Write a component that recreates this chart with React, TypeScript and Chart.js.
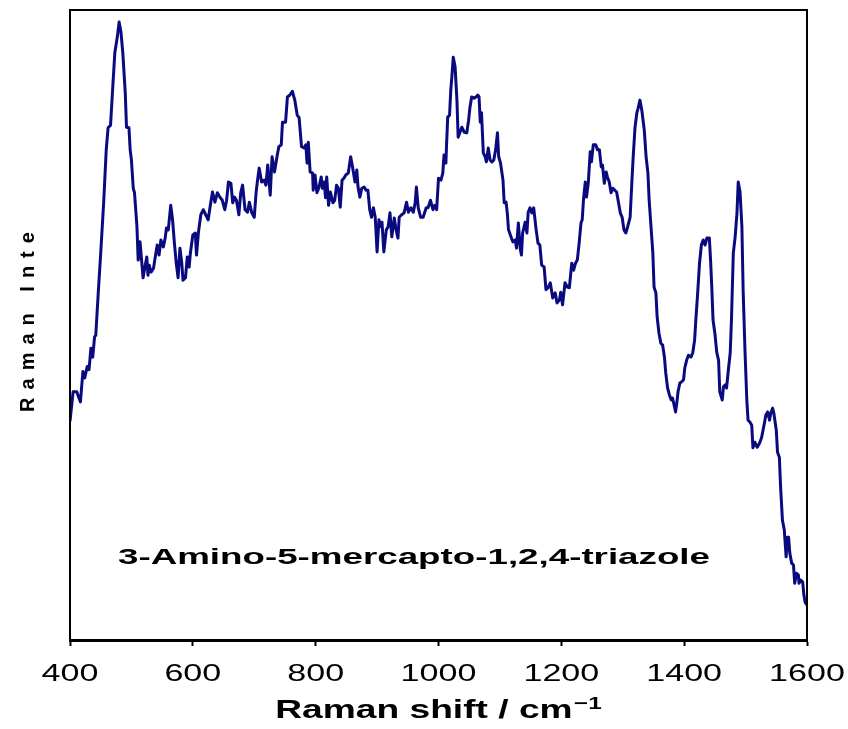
import React, { useEffect, useRef } from "react";
import { Chart, registerables } from "chart.js";

Chart.register(...registerables);

// Raman spectrum (arbitrary intensity units 0..100)
const wavenumbers = [
  400, 405, 411, 417, 421, 424, 428, 431, 434, 437, 440, 442, 446, 450, 453, 455, 459, 462, 466, 470,
  473, 477, 480, 483, 486, 490, 492, 496, 498, 500, 503, 505, 509, 511, 514, 517, 519, 522, 525, 527,
  529, 532, 536, 538, 542, 545, 548, 552, 555, 557, 560, 564, 567, 570, 573, 576, 579, 582, 584, 588,
  591, 594, 596, 600, 604, 606, 609, 613, 617, 621, 625, 628, 632, 636, 640, 644, 648, 652, 655, 658,
  662, 665, 668, 671, 675, 678, 681, 685, 689, 692, 696, 700, 703, 705, 708, 712, 716, 719, 722, 726,
  729, 733, 737, 740, 744, 746, 751, 754, 758, 762, 766, 770, 773, 777, 781, 784, 786, 788, 791, 795,
  796, 799, 802, 805, 809, 811, 814, 816, 818, 821, 824, 828, 831, 834, 837, 840, 843, 846, 849, 853,
  857, 860, 864, 867, 869, 872, 875, 879, 882, 885, 888, 891, 894, 897, 900, 903, 906, 908, 911, 915,
  918, 921, 924, 928, 931, 934, 936, 940, 944, 948, 951, 955, 959, 962, 964, 967, 971, 975, 980, 983,
  987, 991, 994, 997, 1000, 1004, 1007, 1009, 1012, 1013, 1015, 1018, 1020, 1022, 1024, 1027, 1030, 1032, 1035, 1038,
  1042, 1046, 1049, 1051, 1054, 1058, 1061, 1064, 1066, 1068, 1070, 1073, 1076, 1078, 1081, 1084, 1087, 1090, 1093, 1096,
  1098, 1101, 1105, 1107, 1110, 1112, 1114, 1118, 1121, 1125, 1127, 1130, 1133, 1135, 1137, 1141, 1144, 1146, 1149, 1152,
  1155, 1159, 1162, 1165, 1168, 1172, 1175, 1179, 1182, 1186, 1190, 1193, 1197, 1199, 1202, 1206, 1210, 1213, 1217, 1220,
  1223, 1226, 1229, 1232, 1234, 1236, 1239, 1241, 1244, 1247, 1249, 1252, 1256, 1259, 1262, 1265, 1267, 1270, 1273, 1275,
  1278, 1281, 1284, 1287, 1290, 1293, 1296, 1299, 1302, 1305, 1308, 1312, 1315, 1317, 1320, 1323, 1325, 1328, 1331, 1335,
  1338, 1341, 1343, 1346, 1349, 1351, 1354, 1356, 1359, 1362, 1365, 1368, 1370, 1373, 1376, 1379, 1381, 1383, 1386, 1388,
  1390, 1393, 1396, 1399, 1401, 1404, 1407, 1411, 1414, 1417, 1419, 1422, 1425, 1428, 1431, 1434, 1437, 1441, 1443, 1445,
  1447, 1450, 1453, 1456, 1458, 1462, 1464, 1467, 1469, 1472, 1475, 1477, 1480, 1483, 1486, 1488, 1491, 1494, 1496, 1499,
  1502, 1504, 1507, 1510, 1512, 1515, 1519, 1523, 1526, 1530, 1533, 1536, 1539, 1541, 1544, 1546, 1550, 1552, 1555, 1557,
  1560, 1563, 1566, 1568, 1570, 1572, 1575, 1578, 1580, 1583, 1586, 1587, 1590, 1593, 1595, 1597, 1600,
];

const intensities = [
  34.7, 39.4, 39.4, 37.8, 42.6, 41.6, 43.4, 42.9, 46.3, 44.9, 48.1, 48.4, 55.1, 61.4, 66.4, 69.8, 77.8, 81.3, 81.7, 88.4,
  93.2, 95.7, 98.1, 96.5, 93.2, 86.8, 81.4, 81.3, 77.8, 76.2, 71.7, 71.0, 65.6, 60.3, 63.2, 59.8, 57.5, 59.2, 60.8, 57.9,
  59.5, 58.4, 59.0, 60.3, 62.7, 61.1, 63.5, 62.4, 63.8, 65.4, 65.1, 69.0, 66.7, 63.0, 59.8, 57.5, 62.2, 59.8, 57.1, 57.5,
  60.8, 59.2, 61.4, 64.3, 64.6, 61.1, 64.6, 67.5, 68.3, 67.5, 66.7, 68.7, 71.1, 69.5, 71.0, 70.3, 69.8, 68.3, 69.8, 72.7,
  72.5, 69.4, 70.3, 69.8, 67.5, 71.0, 72.2, 68.3, 67.9, 69.5, 67.8, 67.1, 71.0, 72.7, 74.9, 72.7, 73.0, 72.2, 75.4, 70.6,
  76.7, 74.3, 76.7, 78.3, 78.6, 82.2, 82.2, 86.2, 86.5, 87.1, 85.7, 83.3, 82.9, 78.3, 78.1, 78.6, 75.7, 79.0, 74.3, 74.1,
  71.4, 73.8, 71.0, 71.7, 73.5, 71.7, 72.7, 70.2, 73.5, 69.0, 71.1, 69.4, 69.8, 72.2, 71.7, 68.7, 73.0, 73.3, 73.8, 74.1,
  76.7, 75.1, 72.7, 74.6, 71.9, 70.3, 71.7, 71.9, 71.4, 71.4, 68.3, 67.1, 68.6, 67.1, 61.6, 66.7, 65.6, 66.3, 61.6, 65.1,
  65.6, 67.8, 64.0, 67.0, 65.1, 63.8, 67.1, 67.5, 67.8, 69.5, 67.9, 68.6, 67.9, 69.4, 71.9, 68.6, 67.1, 67.1, 68.6, 68.6,
  69.8, 68.3, 69.0, 68.3, 73.3, 73.0, 74.1, 77.0, 75.7, 78.3, 83.0, 83.3, 87.3, 89.7, 92.5, 91.0, 85.7, 79.8, 80.6, 81.4,
  80.6, 80.5, 82.5, 84.4, 86.2, 86.0, 86.2, 86.5, 86.2, 82.2, 83.7, 77.3, 76.7, 75.9, 78.1, 76.2, 75.9, 76.2, 77.8, 80.5,
  76.7, 75.7, 73.0, 69.4, 69.5, 67.8, 65.1, 64.0, 63.2, 63.5, 62.2, 66.2, 62.2, 61.1, 64.6, 66.3, 64.6, 67.9, 68.6, 67.8,
  68.6, 65.1, 63.0, 62.7, 59.5, 59.2, 55.6, 56.0, 56.7, 54.3, 55.1, 53.5, 54.0, 55.2, 53.2, 56.7, 56.0, 55.9, 59.8, 58.7,
  59.8, 60.3, 63.0, 66.2, 66.7, 69.8, 72.7, 70.3, 72.7, 77.5, 75.9, 78.6, 78.6, 77.8, 77.8, 75.1, 75.4, 72.5, 74.3, 73.5,
  72.7, 71.0, 71.7, 71.4, 71.1, 69.5, 67.8, 67.1, 65.1, 64.6, 65.6, 67.1, 73.0, 76.7, 81.4, 83.7, 84.4, 85.7, 84.1, 81.0,
  76.7, 74.1, 69.8, 65.6, 61.4, 56.0, 55.1, 51.3, 48.7, 47.1, 46.8, 44.8, 42.4, 40.0, 38.9, 38.1, 38.4, 37.6, 36.2, 37.6,
  39.4, 40.8, 41.0, 41.3, 43.2, 44.4, 45.2, 44.9, 45.6, 47.6, 50.8, 55.1, 59.8, 62.7, 63.5, 62.7, 63.8, 63.8, 60.3, 56.0,
  50.8, 48.7, 45.7, 44.4, 39.4, 38.1, 40.2, 40.5, 40.0, 42.9, 45.6, 50.8, 61.4, 64.0, 67.8, 72.7, 71.1, 65.6, 55.6, 46.0,
  38.1, 34.9, 34.6, 34.1, 30.5, 31.4, 30.6, 31.3, 32.1, 34.1, 35.7, 36.2, 34.9, 36.0, 36.8, 36.0, 33.3, 29.8, 29.0, 24.3,
  19.0, 17.5, 13.2, 16.3, 16.3, 13.8, 12.2, 11.9, 9.0, 10.6, 10.3, 9.0, 9.5, 9.2, 7.1, 6.0, 5.5,
];

const xMin = 400;
const xMax = 1600;
const xStep = 200;
const xTitle = "Raman shift / cm";
const xTitleSup = "\u22121";
const yTitle = "Raman Inte";
const compoundLabel = "3-Amino-5-mercapto-1,2,4-triazole";

const FONT = "'Liberation Sans', Arial, Helvetica, sans-serif";

const decorPlugin = {
  id: "decor",
  afterDraw(chart: any) {
    const { ctx, chartArea } = chart;
    const xs = chart.scales.x;
    ctx.save();
    // plot frame
    ctx.strokeStyle = "#000";
    ctx.lineWidth = 2;
    ctx.beginPath();
    ctx.moveTo(chartArea.left, chartArea.bottom);
    ctx.lineTo(chartArea.left, chartArea.top);
    ctx.lineTo(chartArea.right, chartArea.top);
    ctx.lineTo(chartArea.right, chartArea.bottom);
    ctx.stroke();

    // tick labels (horizontally stretched, as in the reference)
    ctx.fillStyle = "#000";
    ctx.font = `24px ${FONT}`;
    ctx.textAlign = "center";
    ctx.textBaseline = "alphabetic";
    for (const t of xs.ticks) {
      const px = xs.getPixelForValue(t.value);
      ctx.save();
      ctx.translate(px, chartArea.bottom + 41);
      ctx.scale(1.42, 1);
      ctx.fillText(String(t.value), 0, 0);
      ctx.restore();
    }

    // x-axis title with superscript
    ctx.font = `bold 26px ${FONT}`;
    const mainW = ctx.measureText(xTitle).width;
    ctx.font = `bold 17px ${FONT}`;
    const supW = ctx.measureText(xTitleSup).width;
    const sx = 1.43;
    const totalW = (mainW + supW + 1) * sx;
    const cx = (chartArea.left + chartArea.right) / 2;
    const startX = cx - totalW / 2;
    ctx.save();
    ctx.translate(startX, chartArea.bottom + 78);
    ctx.scale(sx, 1);
    ctx.textAlign = "left";
    ctx.font = `bold 26px ${FONT}`;
    ctx.fillText(xTitle, 0, 0);
    ctx.font = `bold 17px ${FONT}`;
    ctx.fillText(xTitleSup, mainW + 1, -9);
    ctx.restore();

    // y-axis title (rotated, letter-spaced)
    ctx.save();
    ctx.translate(28, (chartArea.top + chartArea.bottom) / 2 - 3);
    ctx.rotate(-Math.PI / 2);
    ctx.font = `bold 20px ${FONT}`;
    (ctx as any).letterSpacing = "8px";
    ctx.textAlign = "center";
    ctx.textBaseline = "middle";
    ctx.fillText(yTitle, 4, 0);
    ctx.restore();

    // compound annotation
    ctx.save();
    ctx.font = `bold 22px ${FONT}`;
    const w = ctx.measureText(compoundLabel).width;
    const target = 592;
    ctx.translate(414, chartArea.top + 554);
    ctx.scale(target / w, 1);
    ctx.textAlign = "center";
    ctx.textBaseline = "alphabetic";
    ctx.fillText(compoundLabel, 0, 0);
    ctx.restore();

    ctx.restore();
  },
};

export default function App() {
  const ref = useRef<HTMLCanvasElement | null>(null);
  useEffect(() => {
    if (!ref.current) return;
    const chart = new Chart(ref.current, {
      type: "line",
      data: {
        datasets: [
          {
            data: wavenumbers.map((x, i) => ({ x, y: intensities[i] })),
            borderColor: "#0a0a80",
            borderWidth: 3,
            pointRadius: 0,
            tension: 0,
            borderJoinStyle: "round",
            fill: false,
          },
        ],
      },
      options: {
        animation: false,
        responsive: false,
        layout: { padding: { left: 70, right: 41, top: 10, bottom: 0 } },
        plugins: { legend: { display: false }, tooltip: { enabled: false }, title: { display: false } },
        scales: {
          x: {
            type: "linear",
            min: xMin,
            max: xMax,
            ticks: { stepSize: xStep, display: false },
            grid: {
              drawOnChartArea: false,
              drawTicks: true,
              tickLength: 6,
              tickWidth: 2,
              tickColor: "#000",
            },
            border: { display: true, color: "#000", width: 3 },
            afterFit: (scale: any) => {
              scale.height = 89;
            },
          },
          y: { min: 0, max: 100, display: false },
        },
      },
      plugins: [decorPlugin],
    });
    return () => chart.destroy();
  }, []);
  return (
    <div style={{ position: "fixed", left: 0, top: 0, width: 848, height: 729, background: "#fff" }}>
      <canvas ref={ref} width={848} height={729} style={{ display: "block" }} />
    </div>
  );
}
